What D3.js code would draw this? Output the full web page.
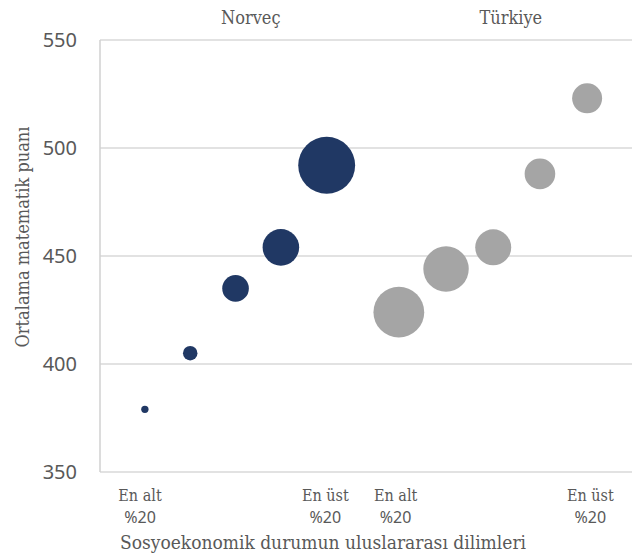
<!DOCTYPE html>
<html>
<head>
<meta charset="utf-8">
<script src="https://cdn.jsdelivr.net/npm/d3@7"></script>
<style>
  body { margin: 0; background: #fff; }
  .serif { font-family: "DejaVu Serif Condensed", "DejaVu Serif", serif; font-stretch: condensed; fill: #595959; }
  .sans { font-family: "Noto Sans", "Open Sans", sans-serif; fill: #595959; }
</style>
</head>
<body>
<script>
// values
var norwayX = [0.97, 1.95, 2.93, 3.91, 4.9];
var norwayScore = [379, 405, 435, 454, 492];
var norwaySize = [0.9, 3.5, 11.8, 22.3, 54];
var turkeyX = [6.46, 7.48, 8.5, 9.51, 10.53];
var turkeyScore = [424, 444, 454, 488, 523];
var turkeySize = [43, 34.4, 21.6, 15.6, 15];

var yTicks = [350, 400, 450, 500, 550];
var groupNames = ["Norveç", "Türkiye"];
var groupPos = [3.26, 8.88];
var catLabels = [["En alt", "%20"], ["En üst", "%20"], ["En alt", "%20"], ["En üst", "%20"]];
var catPos = [0.865, 4.87, 6.39, 10.6];

// set the dimensions and margins of the graph
var margin = {top: 40, right: 8, bottom: 83, left: 100},
    width = 640 - margin.left - margin.right,
    height = 555 - margin.top - margin.bottom;

var x = d3.scaleLinear().domain([0, 11.5]).range([0, width]);
var y = d3.scaleLinear().domain([350, 550]).range([height, 0]);
var r = d3.scaleSqrt().domain([0, 60]).range([0, 30]);

var svg = d3.select("body").append("svg")
    .attr("width", 640)
    .attr("height", 555)
  .append("g")
    .attr("transform", "translate(" + margin.left + "," + margin.top + ")");

// gridlines
svg.append("g")
    .selectAll("line")
    .data(yTicks)
    .enter().append("line")
    .attr("x1", 0)
    .attr("x2", width)
    .attr("y1", function(d) { return y(d); })
    .attr("y2", function(d) { return y(d); })
    .attr("stroke", "#d9d9d9")
    .attr("stroke-width", 1.5);

// left axis line
svg.append("line")
    .attr("x1", 0).attr("x2", 0)
    .attr("y1", y(550)).attr("y2", y(350))
    .attr("stroke", "#d0d0d0")
    .attr("stroke-width", 1.5);

// y tick labels
svg.append("g")
    .selectAll("text")
    .data(yTicks)
    .enter().append("text")
    .attr("class", "sans")
    .attr("x", -23)
    .attr("y", function(d) { return y(d); })
    .attr("dy", "0.35em")
    .style("text-anchor", "end")
    .style("font-size", "20px")
    .text(function(d) { return d; });

// bubbles
function bubbles(xs, ys, ss, color) {
  var pts = xs.map(function(d, i) { return {x: d, y: ys[i], s: ss[i]}; });
  svg.append("g")
    .selectAll("circle")
    .data(pts)
    .enter().append("circle")
    .attr("cx", function(d) { return x(d.x); })
    .attr("cy", function(d) { return y(d.y); })
    .attr("r", function(d) { return r(d.s); })
    .attr("fill", color);
}
bubbles(norwayX, norwayScore, norwaySize, "#203864");
bubbles(turkeyX, turkeyScore, turkeySize, "#a5a5a5");

// group titles on top
svg.append("g")
    .selectAll("text")
    .data(groupNames)
    .enter().append("text")
    .attr("class", "serif")
    .attr("x", function(d, i) { return x(groupPos[i]); })
    .attr("y", -16)
    .style("text-anchor", "middle")
    .style("font-size", "18px")
    .text(function(d) { return d; });

// category labels under the axis
var cat = svg.append("g")
    .selectAll("g")
    .data(catLabels)
    .enter().append("g")
    .attr("transform", function(d, i) { return "translate(" + x(catPos[i]) + "," + height + ")"; });
cat.append("text")
    .attr("class", "serif")
    .attr("y", 29)
    .style("text-anchor", "middle")
    .style("font-size", "16px")
    .text(function(d) { return d[0]; });
cat.append("text")
    .attr("class", "sans")
    .attr("y", 51)
    .style("text-anchor", "middle")
    .style("font-size", "16px")
    .text(function(d) { return d[1]; });

// axis titles
svg.append("text")
    .attr("class", "serif")
    .attr("x", 223)
    .attr("y", height + 77)
    .style("text-anchor", "middle")
    .style("font-size", "19px")
    .text("Sosyoekonomik durumun uluslararası dilimleri");

svg.append("text")
    .attr("class", "serif")
    .attr("transform", "translate(-71," + (y(450) - 19) + ") rotate(-90)")
    .style("text-anchor", "middle")
    .style("font-size", "18px")
    .text("Ortalama matematik puanı");
</script>
</body>
</html>
